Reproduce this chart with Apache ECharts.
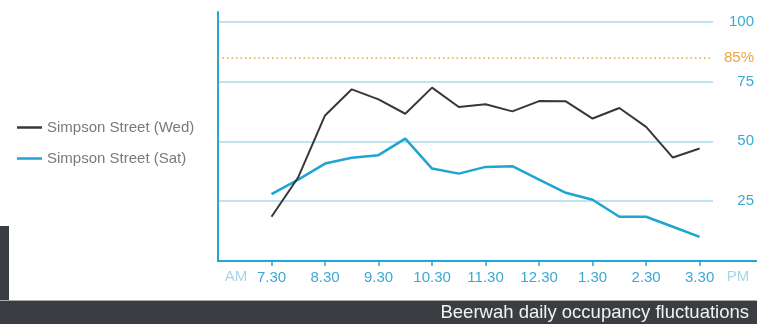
<!DOCTYPE html>
<html>
<head>
<meta charset="utf-8">
<script src="https://cdn.jsdelivr.net/npm/echarts@6/dist/echarts.min.js"></script>
<style>
html,body{margin:0;padding:0;background:#fff;}
#chart{width:757px;height:324px;}
</style>
</head>
<body>
<div id="chart"></div>
<script>
// half-hourly readings, 7.30 AM to 3.30 PM
const times = ['7.30','8.00','8.30','9.00','9.30','10.00','10.30','11.00','11.30','12.00','12.30','1.00','1.30','2.00','2.30','3.00','3.30'];
const wedValues = [18.5, 35, 60.8, 71.7, 67.5, 61.5, 72.4, 64.3, 65.5, 62.5, 66.8, 66.7, 59.5, 63.9, 56, 43.2, 47];
const satValues = [27.9, 34, 40.7, 43.1, 44.2, 51.1, 38.6, 36.5, 39.3, 39.6, 34, 28.5, 25.6, 18.5, 18.5, 14.3, 10.1];
const xTickLabels = ['7.30','8.30','9.30','10.30','11.30','12.30','1.30','2.30','3.30'];
const yTickValues = [25, 50, 75, 100];
const threshold = 85;
const seriesNames = ['Simpson Street (Wed)', 'Simpson Street (Sat)'];

// x position in hours after 6.30 AM (each reading is 30 min apart)
const xOf = i => 1 + i / 2;
const xTickPos = xTickLabels.map((_, i) => 1 + i);

const BLUE = '#22a6d4';
const FONT = 'Liberation Sans, Arial, sans-serif';

const chart = echarts.init(document.getElementById('chart'), null, {renderer: 'canvas'});
chart.setOption({
  animation: false,
  textStyle: {fontFamily: FONT},
  grid: [
    {left: 218, top: 12, width: 498, height: 249},
    {left: 218, top: 12, right: 0, height: 249}
  ],
  legend: {
    data: seriesNames,
    orient: 'vertical',
    left: 12,
    top: 115,
    icon: 'rect',
    itemWidth: 25,
    itemHeight: 2.5,
    itemGap: 16,
    textStyle: {fontSize: 15, color: '#7a7a7a', fontFamily: FONT}
  },
  xAxis: [
    {
      type: 'value', gridIndex: 0, min: 0, max: 9.25, interval: 1,
      axisLine: {show: false},
      splitLine: {show: false},
      axisTick: {show: true, length: 5, customValues: xTickPos, lineStyle: {color: BLUE, width: 1.5}},
      axisLabel: {
        customValues: xTickPos,
        margin: 9, fontSize: 15, color: '#3aa9d2', fontFamily: FONT,
        formatter: v => {
          const k = Math.round(v) - 1;
          return (Math.abs(v - Math.round(v)) < 1e-6 && k >= 0 && k < xTickLabels.length) ? xTickLabels[k] : '';
        }
      }
    },
    {
      type: 'value', gridIndex: 1, min: 0, max: 1,
      axisLine: {show: true, lineStyle: {color: BLUE, width: 2}},
      axisTick: {show: false}, axisLabel: {show: false}, splitLine: {show: false}
    }
  ],
  yAxis: [
    {
      type: 'value', gridIndex: 0, position: 'right', min: 0, max: 104, interval: 25,
      axisLine: {show: false}, axisTick: {show: false},
      axisLabel: {
        margin: 41, align: 'right', fontSize: 15, color: '#3aa9d2', fontFamily: FONT,
        showMaxLabel: false,
        formatter: v => yTickValues.indexOf(v) >= 0 ? String(v) : ''
      },
      splitLine: {show: true, showMinLine: false, showMaxLine: false, lineStyle: {color: '#a9dcea', width: 1.5}}
    },
    {
      type: 'value', gridIndex: 1, min: 0, max: 104,
      axisLine: {show: true, lineStyle: {color: BLUE, width: 2}},
      axisTick: {show: false}, axisLabel: {show: false}, splitLine: {show: false}
    }
  ],
  series: [
    {
      name: seriesNames[0], type: 'line', xAxisIndex: 0, yAxisIndex: 0,
      data: wedValues.map((v, i) => [xOf(i), v]),
      showSymbol: false, symbol: 'none',
      lineStyle: {color: '#383838', width: 2},
      itemStyle: {color: '#383838'},
      z: 3,
      markLine: {
        silent: true, symbol: 'none',
        data: [{yAxis: threshold}],
        lineStyle: {color: '#eea33a', type: [1.5, 3], width: 1.6},
        label: {show: true, position: 'end', distance: 11, formatter: threshold + '%', fontSize: 15, color: '#eea33a', fontFamily: FONT}
      }
    },
    {
      name: seriesNames[1], type: 'line', xAxisIndex: 0, yAxisIndex: 0,
      data: satValues.map((v, i) => [xOf(i), v]),
      showSymbol: false, symbol: 'none',
      lineStyle: {color: '#1ea5d2', width: 2.5},
      itemStyle: {color: '#1ea5d2'},
      z: 2
    }
  ],
  graphic: [
    {type: 'rect', shape: {x: 0, y: 226, width: 9, height: 76}, style: {fill: '#3a3d42'}},
    {type: 'rect', shape: {x: 0, y: 300, width: 757, height: 1}, style: {fill: '#a8a8a8'}},
    {type: 'rect', shape: {x: 0, y: 301, width: 757, height: 23}, style: {fill: '#3a3d42'}},
    {type: 'text', x: 749, y: 313, style: {text: 'Beerwah daily occupancy fluctuations', fill: '#f2f2f2', fontSize: 18.5, fontFamily: FONT, align: 'right', verticalAlign: 'middle'}},
    {type: 'text', x: 236, y: 277, style: {text: 'AM', fill: '#a6d6e8', fontSize: 15, fontFamily: FONT, align: 'center', verticalAlign: 'middle'}},
    {type: 'text', x: 738, y: 277, style: {text: 'PM', fill: '#a6d6e8', fontSize: 15, fontFamily: FONT, align: 'center', verticalAlign: 'middle'}}
  ]
});
</script>
</body>
</html>
